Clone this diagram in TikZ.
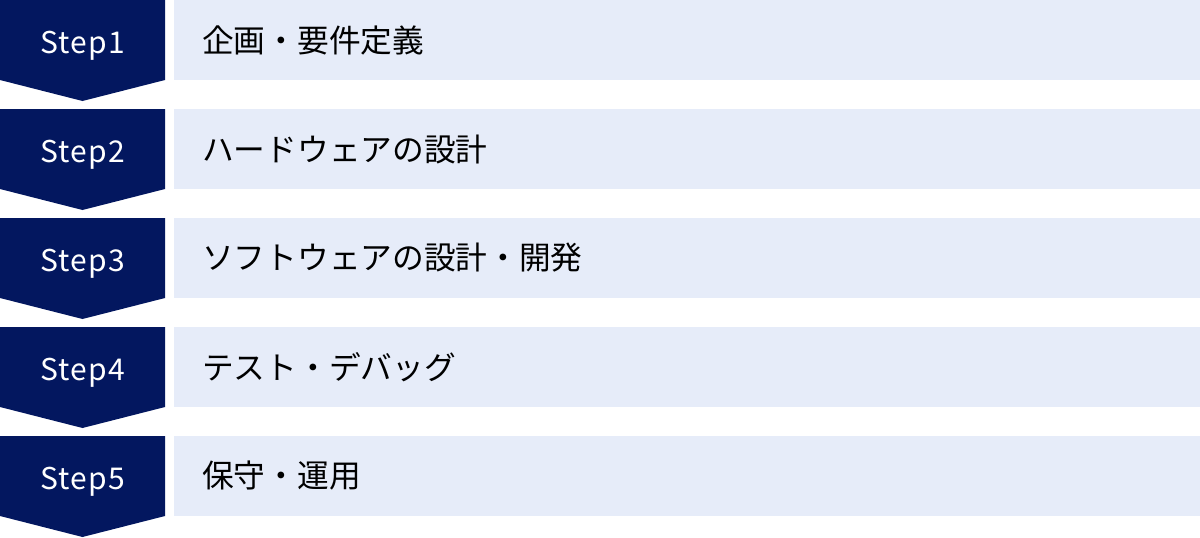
\documentclass[tikz,border=0pt]{standalone}
\usepackage{fontspec}
\setmainfont{Noto Sans CJK JP}
\newfontfamily\stepfont[LetterSpace=4]{Noto Sans CJK JP}
\usepackage{tikz}
\definecolor{navy}{HTML}{03175F}
\definecolor{paleblue}{HTML}{E6ECF9}
\def\chevron{(0,0) -- (165,0) -- (165,80) -- (82.5,101) -- (0,80) -- cycle}
\def\band{(174,0) rectangle (1200,80)}

\begin{document}
\begin{tikzpicture}[x=1pt,y=-1pt]
    \useasboundingbox (0,0) rectangle (1200,538);
    \foreach \n/\task in {1/企画・要件定義, 2/ハードウェアの設計, 3/ソフトウェアの設計・開発, 4/テスト・デバッグ, 5/保守・運用} {
        \begin{scope}[yshift={-(\n-1)*109pt}]
            \fill[navy] \chevron;
            \fill[paleblue] \band;
            \node[anchor=base,text=white,inner sep=0,font=\stepfont\fontsize{30}{36}\selectfont] (step\n) at (82.5,53) {Step\n};
            \node[anchor=west,inner sep=0,font=\fontsize{31.7}{38}\selectfont] (task\n) at (202,40) {\task};
        \end{scope}
    }
\end{tikzpicture}
\end{document}
